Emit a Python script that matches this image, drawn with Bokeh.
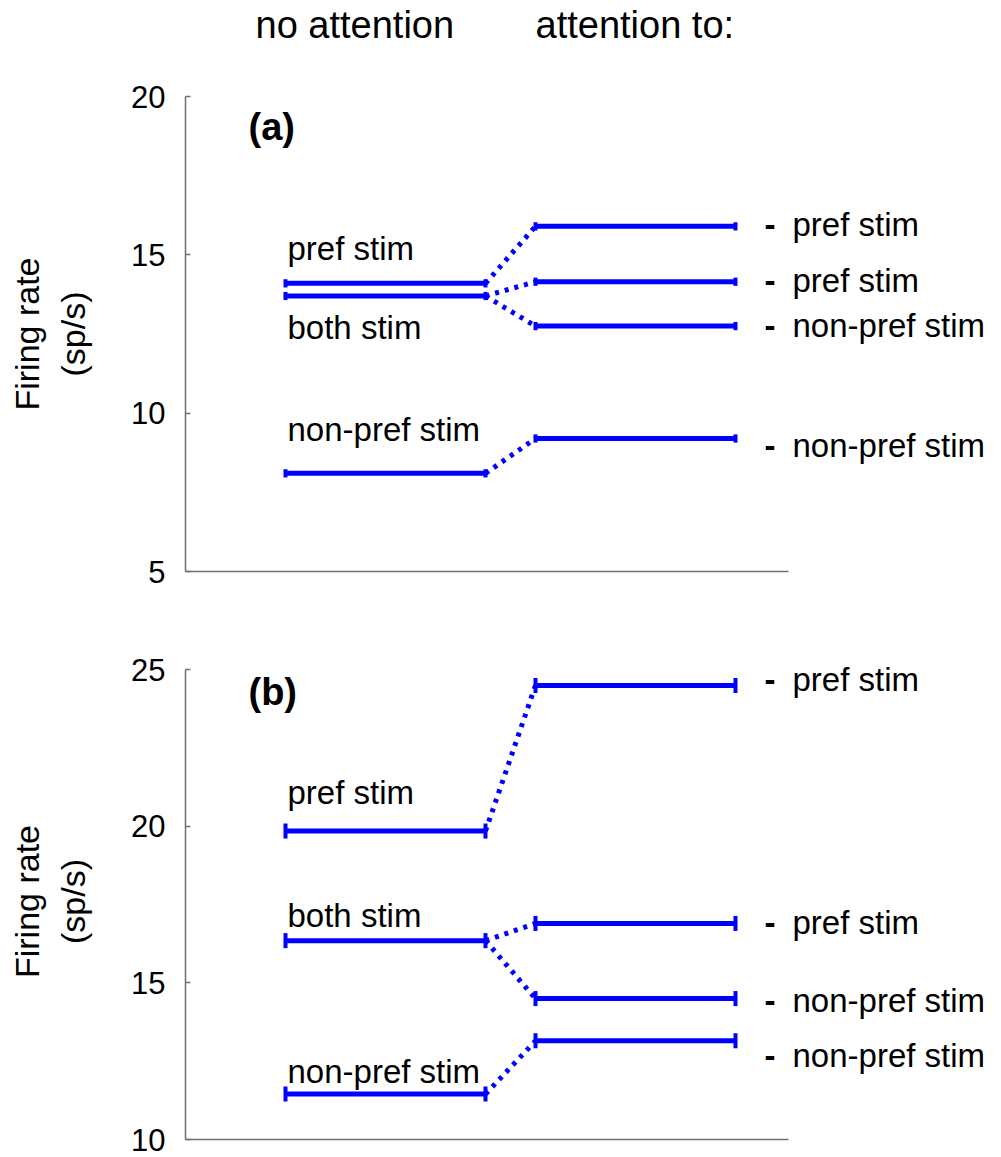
from bokeh.plotting import figure
from bokeh.models import ColumnDataSource, LabelSet, Label, FixedTicker, Range1d
from bokeh.core.properties import value
from bokeh.layouts import column
from bokeh.embed import file_html
from bokeh.resources import INLINE

# ---------------- data ----------------
x_none = [1.0, 3.0]          # "no attention" segment span
x_att = [3.5, 5.5]           # "attention to:" segment span
x_axis_end = 6.03

titles = ["no attention", "attention to:"]
title_x = [0.70, 3.5]

left_names = ["pref stim", "both stim", "non-pref stim"]
right_names = ["pref stim", "pref stim", "non-pref stim", "non-pref stim"]
link_from = [0, 1, 1, 2]     # which no-attention condition each attended one comes from

# panel (a)
a_left = [14.1, 13.7, 8.1]
a_left_err = [0.13, 0.13, 0.13]
a_right = [15.9, 14.15, 12.75, 9.2]
a_right_err = [0.13, 0.13, 0.13, 0.13]
a_left_lab_y = [15.2, 12.71, 9.48]
a_right_lab_y = [15.96, 14.19, 12.77, 8.98]
a_ticks = [5, 10, 15, 20]

# panel (b)
b_left = [19.85, 16.35, 11.45]
b_left_err = [0.24, 0.24, 0.24]
b_right = [24.5, 16.9, 14.5, 13.15]
b_right_err = [0.24, 0.24, 0.24, 0.24]
b_left_lab_y = [21.07, 17.15, 12.17]
b_right_lab_y = [24.68, 16.92, 14.43, 12.68]
b_ticks = [10, 15, 20, 25]

FONT = "Liberation Sans"
BLUE = "#0000ff"
AXIS = "#707070"
LAB_SIZE = "33px"


def base_fig(height, yr, top, bottom):
    p = figure(width=985, height=height, x_range=Range1d(0, 8.0),
               y_range=Range1d(*yr), output_backend="svg",
               toolbar_location=None, min_border_left=185,
               min_border_right=0, min_border_top=top,
               min_border_bottom=bottom)
    p.outline_line_color = None
    p.grid.visible = False
    p.background_fill_color = None
    p.border_fill_color = None
    return p


def make_panel(left, left_err, right, right_err, lab_l, lab_r, yr, ybounds,
               ticks, tag, tag_y, height, top, bottom):
    p = base_fig(height, yr, top, bottom)

    ya = p.yaxis[0]
    ya.bounds = ybounds
    ya.ticker = FixedTicker(ticks=ticks)
    ya.major_tick_in = 5
    ya.major_tick_out = 0
    ya.minor_tick_line_color = None
    ya.axis_line_color = AXIS
    ya.axis_line_width = 1.5
    ya.major_tick_line_color = AXIS
    ya.major_tick_line_width = 1.5
    ya.major_label_text_font = FONT
    ya.major_label_text_font_size = "31px"
    ya.major_label_text_color = "black"
    ya.major_label_standoff = 20
    ya.axis_label = "Firing rate\n(sp/s)"
    ya.axis_label_text_font = FONT
    ya.axis_label_text_font_size = "34px"
    ya.axis_label_text_font_style = "normal"
    ya.axis_label_text_color = "black"
    ya.axis_label_standoff = 36

    xa = p.xaxis[0]
    xa.bounds = (0, x_axis_end)
    xa.ticker = FixedTicker(ticks=[])
    xa.major_label_text_font_size = "0px"
    xa.major_label_standoff = 0
    xa.major_tick_out = 0
    xa.minor_tick_line_color = None
    xa.axis_line_color = AXIS
    xa.axis_line_width = 1.5

    n_l, n_r = len(left), len(right)
    # horizontal level lines
    p.segment(x0=[x_none[0]] * n_l, x1=[x_none[1]] * n_l, y0=left, y1=left,
              line_width=5, line_color=BLUE)
    p.segment(x0=[x_att[0]] * n_r, x1=[x_att[1]] * n_r, y0=right, y1=right,
              line_width=5, line_color=BLUE)
    # error caps
    cx, cy0, cy1 = [], [], []
    for y, e in zip(left, left_err):
        for xx in x_none:
            cx.append(xx); cy0.append(y - e); cy1.append(y + e)
    for y, e in zip(right, right_err):
        for xx in x_att:
            cx.append(xx); cy0.append(y - e); cy1.append(y + e)
    p.segment(x0=cx, x1=cx, y0=cy0, y1=cy1, line_width=4, line_color=BLUE)
    # dotted connectors
    p.segment(x0=[x_none[1]] * n_r, x1=[x_att[0]] * n_r,
              y0=[left[i] for i in link_from], y1=right,
              line_width=5, line_color=BLUE, line_dash="4 6")

    # labels
    common = dict(text_font=value(FONT), text_font_size=value(LAB_SIZE),
                  text_color="black", text_baseline="middle")
    src_l = ColumnDataSource(dict(x=[1.02] * n_l, y=lab_l, t=left_names))
    p.add_layout(LabelSet(x="x", y="y", text="t", source=src_l, **common))
    src_d = ColumnDataSource(dict(x=[5.79] * n_r, y=lab_r, t=["-"] * n_r))
    p.add_layout(LabelSet(x="x", y="y", text="t", source=src_d,
                          text_font_style="bold", **common))
    src_r = ColumnDataSource(dict(x=[6.07] * n_r, y=lab_r, t=right_names))
    p.add_layout(LabelSet(x="x", y="y", text="t", source=src_r, **common))
    p.add_layout(Label(x=0.63, y=tag_y, text=tag, text_font=FONT,
                       text_font_size="38px", text_font_style="bold",
                       text_color="black", text_baseline="middle"))
    return p


# title strip above panel (a)
pt = base_fig(74, (0, 74), 0, 0)
pt.axis.visible = False
pt.text(x=title_x, y=[50] * len(titles), text=titles,
        text_font=value(FONT), text_font_size="38px", text_color="black",
        text_baseline="middle", text_align="left")

pa = make_panel(a_left, a_left_err, a_right, a_right_err, a_left_lab_y,
                a_right_lab_y, (5, 20), (5, 20), a_ticks, "(a)", 19.05,
                545, 22, 48)
pb = make_panel(b_left, b_left_err, b_right, b_right_err, b_left_lab_y,
                b_right_lab_y, (10, 25.2), (10, 25), b_ticks, "(b)", 24.3,
                537, 44, 17)

layout = column(pt, pa, pb)
open("out.html", "w").write(file_html(layout, INLINE))
